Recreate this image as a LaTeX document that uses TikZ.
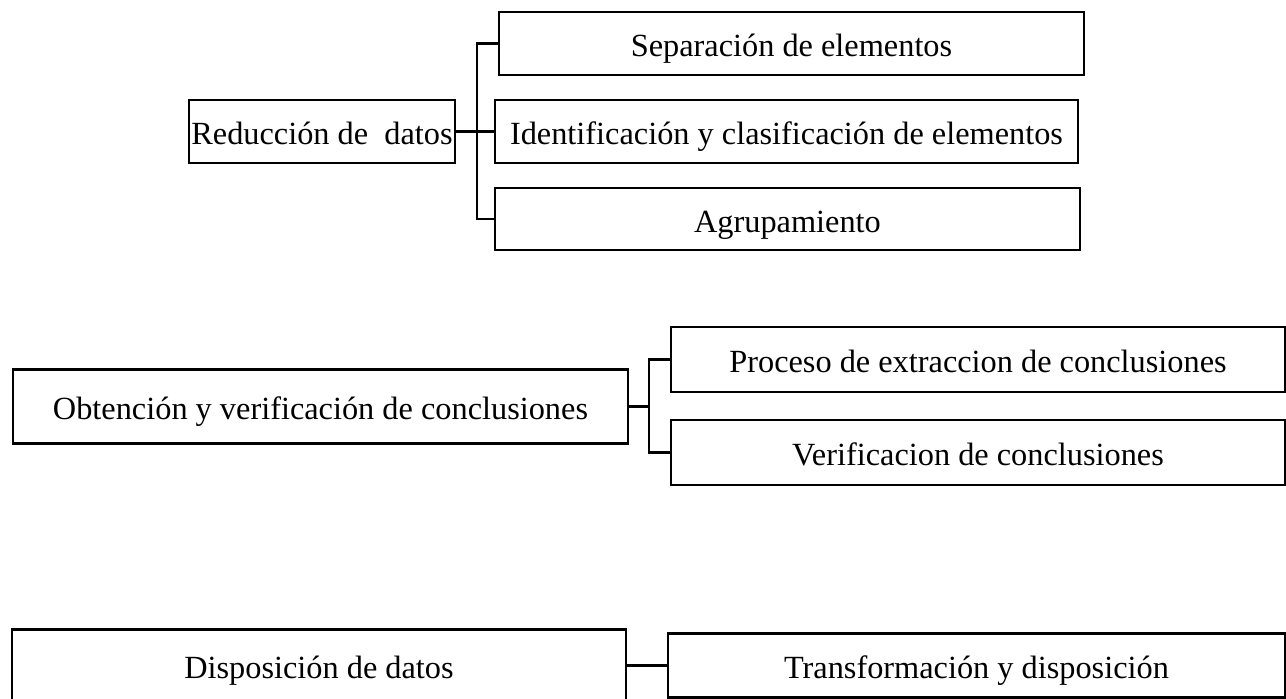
\documentclass[tikz,border=0pt]{standalone}
\usepackage{fontspec}
\setmainfont{Liberation Serif}
\usetikzlibrary{positioning}

\begin{document}
\begin{tikzpicture}[x=0.02cm, y=-0.02cm,
        cuadro/.style={rectangle, black, draw, line width=1.5pt, inner sep=0pt,
            text height=15pt, text depth=0pt,
            font=\fontsize{18.4}{22}\selectfont},
        rama/.style={line width=1.5pt}]
            \useasboundingbox (0, 0) rectangle (1286, 698);

            \draw
            (322, 131.5) node[cuadro, minimum width=5.32cm, minimum height=1.26cm](red) {Reducción de\ \ datos}
            (791.5, 43.5) node[cuadro, minimum width=11.7cm, minimum height=1.26cm](sep) {Separación de elementos}
            (786.5, 131.5) node[cuadro, minimum width=11.66cm, minimum height=1.26cm](ide) {Identificación y clasificación de elementos}
            (787.5, 219) node[cuadro, minimum width=11.7cm, minimum height=1.24cm](agr) {Agrupamiento}
            (320.5, 406.5) node[cuadro, minimum width=12.3cm, minimum height=1.48cm](obt) {Obtención y verificación de conclusiones}
            (978, 359.5) node[cuadro, minimum width=12.28cm, minimum height=1.3cm](pro) {Proceso de extraccion de conclusiones}
            (978, 452.5) node[cuadro, minimum width=12.28cm, minimum height=1.3cm](ver) {Verificacion de conclusiones}
            (319, 665.5) node[cuadro, minimum width=12.28cm, minimum height=1.44cm](dis) {Disposición de datos}
            (976.5, 665.5) node[cuadro, minimum width=12.34cm, minimum height=1.28cm](tra) {Transformación y disposición};

            \coordinate (j1) at (477, 131.5);
            \coordinate (j2) at (649, 406.5);

            \draw[rama] (red.east) -- (ide.west);
            \draw[rama] (j1) |- (sep.west);
            \draw[rama] (j1) |- (agr.west);
            \draw[rama] (obt.east) -- (j2);
            \draw[rama] (j2) |- (pro.west);
            \draw[rama] (j2) |- (ver.west);
            \draw[rama] (dis.east) -- (tra.west);

        \end{tikzpicture}
\end{document}
